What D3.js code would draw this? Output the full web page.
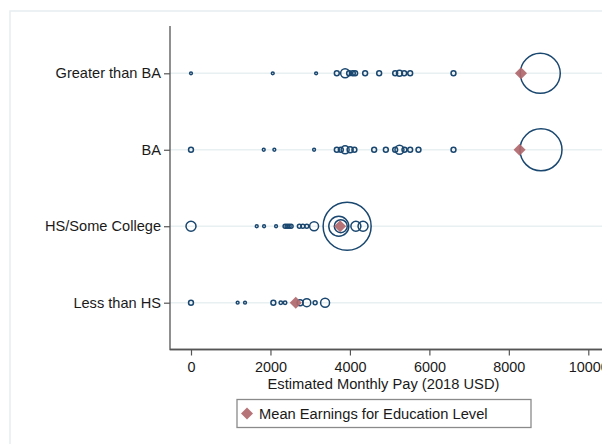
<!DOCTYPE html>
<html><head><meta charset="utf-8">
<script src="https://cdn.jsdelivr.net/npm/d3@7"></script>
<style>body{margin:0;background:#fff}svg{display:block}text{font-family:"Liberation Sans",Arial,sans-serif}</style>
</head><body>
<svg id="c" width="602" height="444"></svg>
<script>
const categories = ["Less than HS", "HS/Some College", "BA", "Greater than BA"];
const xTicks = [0, 2000, 4000, 6000, 8000, 10000];
const meanEarnings = [2637, 3753, 8270, 8305];

// Estimated monthly pay of each group (2018 USD) and its relative weight
const payLessHS   = [0, 1174, 1360, 2073, 2260, 2368, 2746, 2914, 3124, 3375];
const wtLessHS    = [6, 2, 2, 6, 3, 3, 9, 16, 4, 20];
const payHS       = [0, 1655, 1839, 2141, 2368, 2418, 2469, 2519, 2728, 2814, 2914, 3098, 3720, 3770, 3930, 4150, 4330];
const wtHS        = [25, 2, 2, 2, 4, 4, 4, 4, 4, 4, 4, 20, 100, 42, 576, 25, 25];
const payBA       = [0, 1831, 2098, 3098, 3670, 3771, 3879, 4005, 4113, 4610, 4904, 5139, 5247, 5373, 5517, 5726, 6607, 8809];
const wtBA        = [6, 2, 2, 2, 6, 6, 16, 9, 6, 6, 6, 6, 20, 6, 6, 6, 6, 441];
const payGtBA     = [0, 2058, 3149, 3670, 3879, 3980, 4073, 4131, 4383, 4736, 5139, 5247, 5366, 5517, 6607, 8791];
const wtGtBA      = [2, 2, 2, 6, 20, 6, 6, 6, 6, 6, 6, 9, 6, 6, 6, 400];

const groups = [
  {cat: categories[0], pay: payLessHS, wt: wtLessHS},
  {cat: categories[1], pay: payHS, wt: wtHS},
  {cat: categories[2], pay: payBA, wt: wtBA},
  {cat: categories[3], pay: payGtBA, wt: wtGtBA}
];

const svg = d3.select("#c");
const navy = "#1a476f";
const diamondFill = "#b0686c";
const FONT = '"Liberation Sans",Arial,sans-serif';

// outer frame
svg.append("rect").attr("x", 10).attr("y", 11).attr("width", 700).attr("height", 500)
  .attr("fill", "none").attr("stroke", "#e6eeef").attr("stroke-width", 1.5);

const x = d3.scaleLinear().domain([0, 10000]).range([191, 588.3]);
const y = d3.scalePoint().domain(categories).range([302.7, 73.3]);
const r = d3.scaleSqrt().domain([0, 576]).range([0, 24]);
const plotL = 170, plotT = 26, plotB = 349.5;

// gridlines
svg.append("g").selectAll("line").data(categories).join("line")
  .attr("x1", plotL).attr("x2", 602).attr("y1", d => y(d)).attr("y2", d => y(d))
  .attr("stroke", "#e9f0f2").attr("stroke-width", 1.6);

// y axis
const yAxis = svg.append("g").attr("transform", `translate(${plotL},0)`)
  .call(d3.axisLeft(y).tickSize(6).tickPadding(3));
yAxis.select(".domain").attr("d", `M0,${plotT}V${plotB}H500`).attr("stroke", "#555").attr("stroke-width", 1.3).attr("fill","none");
yAxis.selectAll(".tick line").attr("stroke", "#555").attr("stroke-width", 1.2);
yAxis.selectAll(".tick text").attr("font-size", 14.6).attr("fill", "#1a1a1a").attr("font-family", FONT);

// x axis
const xAxis = svg.append("g").attr("transform", `translate(0,${plotB})`)
  .call(d3.axisBottom(x).tickValues(xTicks).tickFormat(d3.format("d")).tickSize(6).tickPadding(6));
xAxis.select(".domain").attr("d", `M${plotL},0H602`).attr("stroke", "#555").attr("stroke-width", 1.3);
xAxis.selectAll(".tick line").attr("stroke", "#555").attr("stroke-width", 1.2);
xAxis.selectAll(".tick text").attr("font-size", 14.4).attr("fill", "#1a1a1a").attr("font-family", FONT);

svg.append("text").attr("x", 383.5).attr("y", 388.5).attr("text-anchor", "middle")
  .attr("font-size", 14.7).attr("fill", "#1a1a1a").text("Estimated Monthly Pay (2018 USD)");

// circles
const pts = groups.flatMap(g => g.pay.map((p, i) => ({cat: g.cat, pay: p, w: g.wt[i]})));
svg.append("g").selectAll("circle").data(pts.sort((a,b)=>b.w-a.w)).join("circle")
  .attr("cx", d => x(d.pay)).attr("cy", d => y(d.cat)).attr("r", d => r(d.w))
  .attr("fill", "none").attr("stroke", navy).attr("stroke-width", 1.5);

// means
const diamond = d3.symbol().type(d3.symbolDiamond).size(42);
svg.append("g").selectAll("path").data(categories).join("path")
  .attr("d", diamond)
  .attr("transform", (d, i) => `translate(${x(meanEarnings[i])},${y(d)}) scale(1.732,1)`)
  .attr("fill", diamondFill).attr("fill-opacity", 0.92);

// legend
svg.append("rect").attr("x", 237).attr("y", 399.5).attr("width", 294).attr("height", 28)
  .attr("fill", "#fff").attr("stroke", "#8a8a8a").attr("stroke-width", 1.3);
svg.append("path").attr("d", diamond).attr("transform", "translate(247,413.5) scale(1.732,1)")
  .attr("fill", diamondFill).attr("fill-opacity", 0.92);
svg.append("text").attr("x", 259).attr("y", 418.5).attr("font-size", 14.7).attr("fill", "#1a1a1a")
  .text("Mean Earnings for Education Level");
</script>
</body></html>
